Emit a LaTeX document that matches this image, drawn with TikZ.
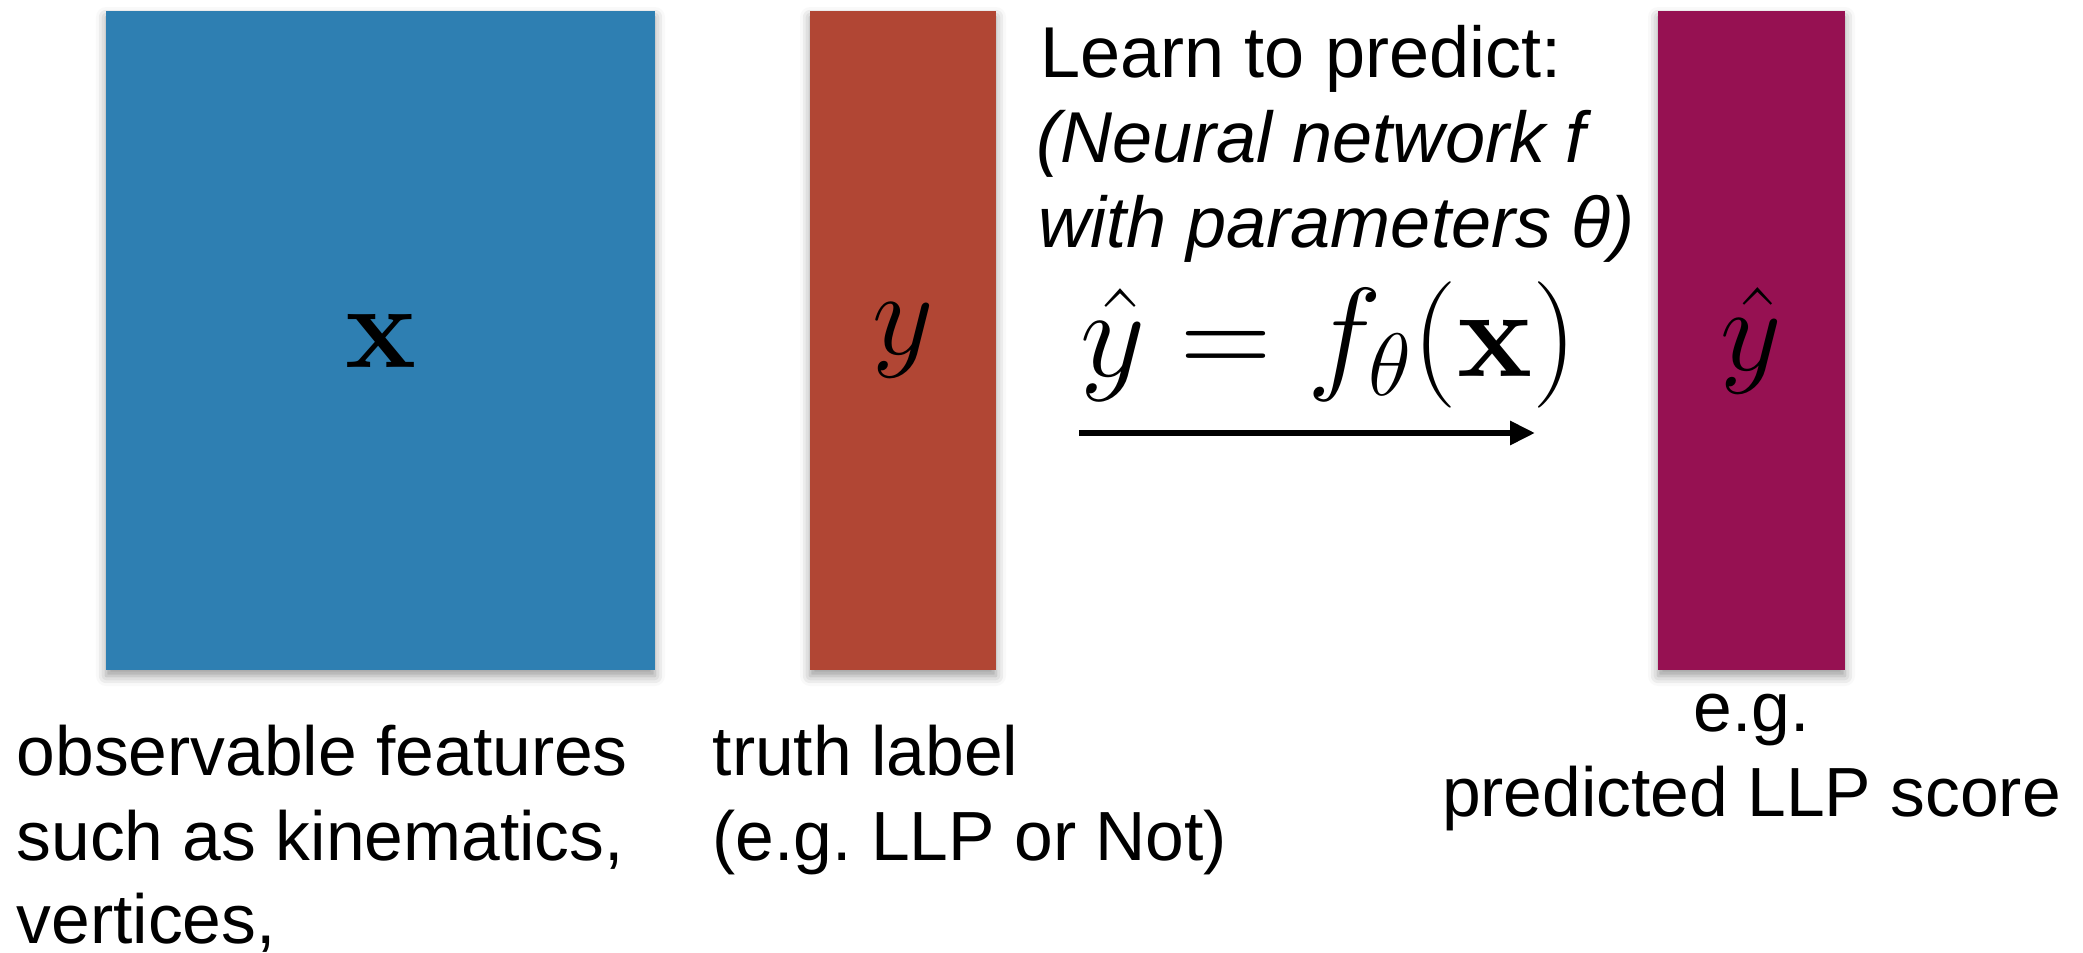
\RequirePackage{fix-cm}
\documentclass[tikz,border=0pt]{standalone}
\usepackage[no-math]{fontspec}
\usepackage{amsmath, bm}
\newfontfamily\helv{Liberation Sans}
\usetikzlibrary{positioning, arrows.meta, shadows.blur}
\definecolor{featblue}{RGB}{46,127,178}
\definecolor{truthred}{RGB}{177,70,52}
\definecolor{predpurple}{RGB}{150,17,82}
\frenchspacing

\begin{document}
\begin{tikzpicture}[
  bar/.style={rectangle, minimum height=6.59cm, inner sep=0pt, font=\fontsize{34}{40}\selectfont,
    blur shadow={shadow xshift=0pt, shadow yshift=-0.6mm, shadow blur radius=1mm, shadow opacity=40}},
  txt/.style={anchor=base west, inner sep=0pt, font=\helv\fontsize{19.8}{24}\selectfont},
  ttxt/.style={txt, font=\helv\fontsize{20.5}{24}\selectfont},
  itxt/.style={txt, font=\helv\itshape\fontsize{20.5}{24}\selectfont},
  ctxt/.style={txt, anchor=base},
  flow/.style={line width=1.7pt, -{Triangle[length=2.5mm, width=2.3mm]}}]
  \useasboundingbox (0,0) rectangle (20.83,-9.53);
  % data columns
  \node[bar, fill=featblue, minimum width=5.49cm] (xbar) at (3.805,-3.405) {$\mathbf{x}$};
  \node[bar, fill=truthred, minimum width=1.86cm] (ybar) at (9.03,-3.405) {$y$};
  \node[bar, fill=predpurple, minimum width=1.87cm] (yhatbar) at (17.515,-3.405) {$\hat{y}$};
  % model
  \node[ttxt] (learn) at (10.40,-0.78) {Learn to predict:};
  \node[itxt] (nnline) at (10.36,-1.63) {(Neural network f};
  \node[itxt] (parline) at (10.38,-2.48) {with parameters θ)};
  \node[anchor=base west, inner sep=0pt, font=\fontsize{36}{42}\selectfont] (eqn) at (10.80,-3.77)
    {$\hat{y} = f_\theta(\mathbf{x})$};
  \coordinate (fromhere) at (10.79,-4.33);
  \coordinate (tohere) at (15.35,-4.33);
  \draw[flow] (fromhere) -- (tohere);
  % captions
  \node[txt] (obs1) at (0.16,-7.76) {observable features};
  \node[txt] (obs2) at (0.16,-8.61) {such as kinematics,};
  \node[txt] (obs3) at (0.16,-9.44) {vertices,};
  \node[txt] (truth1) at (7.12,-7.76) {truth label};
  \node[txt] (truth2) at (7.12,-8.61) {(e.g. LLP or Not)};
  \node[ctxt] (eg) at (17.515,-7.32) {e.g.};
  \node[ctxt] (score) at (17.515,-8.17) {predicted LLP score};
\end{tikzpicture}
\end{document}
